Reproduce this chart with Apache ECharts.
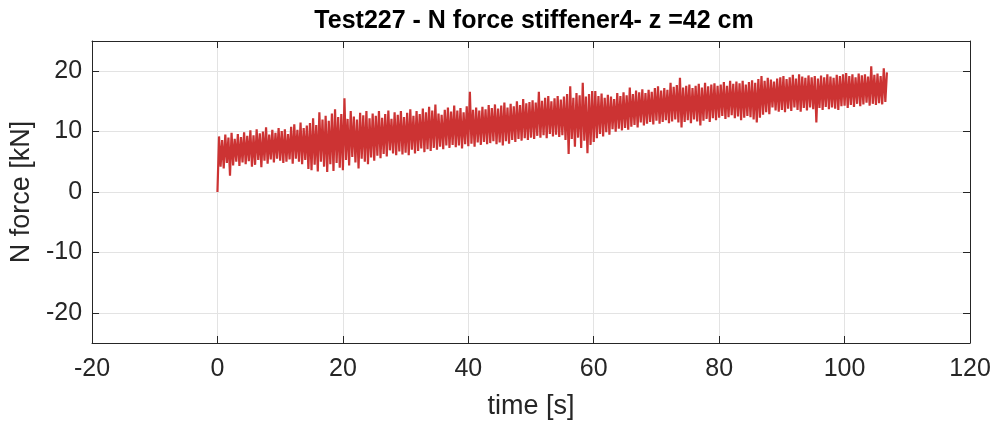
<!DOCTYPE html>
<html>
<head>
<meta charset="utf-8">
<script src="https://cdn.jsdelivr.net/npm/echarts@6/dist/echarts.min.js"></script>
<style>
  html, body { margin: 0; padding: 0; background: #fff; }
  #view1Data { width: 995px; height: 428px; }
</style>
</head>
<body>
<div id="view1Data"></div>
<script>
// sampling of the signal: one trough and one peak every half second
const sampleStep = 0.5
const yTicks = [-20, -10, 0, 10, 20]

// troughs (t = 0, 0.5, 1, ...)
const lows = [
  0, 4.2, 3.9, 4.8, 2.7, 4.4, 5.0, 4.3, 4.9, 4.6,
  5.1, 4.2, 4.5, 5.3, 4.1, 5.2, 4.7, 5.4, 4.9, 5.5,
  5.2, 4.8, 5.0, 5.4, 4.7, 5.5, 5.0, 4.6, 5.3, 3.8,
  3.6, 4.5, 3.4, 5.0, 4.2, 3.3, 4.6, 3.5, 4.8, 4.0,
  3.6, 5.3, 4.4, 5.8, 4.9, 3.9, 5.5, 5.0, 4.6, 5.7,
  5.2, 6.0, 5.6, 6.3, 5.9, 6.9, 6.4, 6.1, 6.7, 6.2,
  6.5, 6.1, 7.0, 6.4, 6.8, 7.2, 6.6, 7.1, 6.8, 7.3,
  7.0, 7.5, 7.1, 7.7, 7.3, 7.8, 7.4, 7.7, 7.2, 7.9,
  7.6, 8.0, 7.5, 8.2, 7.8, 8.3, 7.9, 8.1, 8.4, 7.9,
  8.2, 7.7, 8.4, 8.0, 8.6, 8.3, 8.8, 8.5, 8.9, 8.6,
  9.0, 8.8, 9.3, 9.0, 9.4, 8.9, 9.6, 9.2, 9.5, 9.1,
  9.4, 8.6, 6.3, 8.8, 7.5, 9.0, 7.3, 8.5, 6.4, 7.8,
  8.3, 8.9, 9.6, 9.2, 9.9, 9.5, 10.4, 10.0, 10.5, 10.2,
  10.6, 10.3, 10.8, 11.1, 10.7, 11.5, 11.0, 11.3, 11.6, 11.2,
  11.8, 11.3, 11.6, 11.9, 11.4, 11.7, 12.0, 11.5, 10.7, 11.6,
  11.9, 11.4, 12.0, 11.7, 11.0, 11.8, 12.1, 11.6, 12.2, 11.9,
  12.3, 12.6, 12.1, 12.4, 12.7, 12.2, 12.5, 11.9, 12.3, 12.6,
  12.4, 12.0, 11.5, 12.3, 12.8, 13.2, 12.9, 14.0, 13.5, 13.3,
  13.6, 13.2, 13.8, 13.4, 14.0, 13.6, 13.3, 13.9, 13.5, 14.0,
  13.7, 11.5, 13.9, 13.6, 14.1, 13.7, 14.0, 13.8, 13.6, 14.2,
  14.3, 13.9, 14.4, 14.1, 14.6, 14.2, 14.5, 14.8, 14.3, 14.6,
  14.4, 14.7, 14.5, 14.9
]

// peaks (t = 0.25, 0.75, 1.25, ...)
const highs = [
  9.2, 8.6, 9.5, 9.0, 9.8, 8.8, 9.6, 9.1, 9.9, 9.3,
  10.2, 9.4, 10.4, 9.7, 10.0, 10.7, 9.5, 10.3, 9.8, 10.6,
  10.1, 10.4, 9.6, 10.8, 11.2, 10.3, 11.5, 10.6, 11.0, 11.4,
  12.2, 11.1, 13.2, 12.0, 12.6, 11.8, 13.0, 13.7, 12.4, 12.9,
  15.5, 12.1, 13.4, 12.5, 12.0, 13.1, 12.7, 13.4, 12.2, 13.0,
  12.6, 13.4, 12.3, 12.9, 13.5, 12.1, 13.2, 12.8, 13.4, 12.4,
  13.1, 13.7, 12.6, 13.4, 12.9, 13.8, 13.2, 14.1, 13.5, 14.5,
  13.0, 12.8, 13.6, 14.0, 13.3, 14.3, 13.5, 13.9, 13.2, 14.2,
  16.6, 13.6, 14.0, 13.5, 14.1, 13.7, 14.4, 13.9, 14.5, 13.8,
  14.3, 14.8, 14.0, 14.6, 14.2, 15.0, 14.4, 15.4, 14.7, 14.9,
  15.2, 14.8, 16.6, 15.1, 15.6, 15.9, 15.0, 15.5, 15.9, 15.3,
  15.8, 16.2, 17.5, 15.6, 16.4, 16.0, 18.1, 15.8, 16.2, 16.7,
  16.7, 15.9, 16.3, 15.6, 16.1, 15.8, 15.4, 16.4, 15.9, 16.5,
  16.0, 17.3, 16.2, 16.8, 16.5, 17.0, 16.4, 16.9, 16.6, 17.2,
  17.5, 16.8, 17.2, 16.9, 18.1, 17.4, 17.7, 18.9, 17.3, 17.6,
  17.8, 17.2, 17.6, 17.9, 17.3, 18.1, 17.5, 17.8, 18.0, 17.6,
  17.8, 18.2, 17.6, 18.4, 17.9, 18.3, 18.0, 18.4, 17.8, 18.2,
  18.5, 18.1, 18.7, 19.2, 18.4, 18.9, 18.6, 18.3, 18.8, 19.0,
  19.2, 18.7, 19.0, 19.4, 18.8, 19.5, 19.1, 18.9, 19.3, 19.0,
  19.2, 18.8, 19.3, 19.0, 19.5, 19.1, 18.9, 19.4, 19.2, 19.5,
  19.7, 19.2, 19.5, 19.0, 19.6, 19.3, 19.5, 19.1, 20.8, 19.4,
  19.6, 19.2, 20.5, 19.8
]

let signal = []
lows.forEach((lo, i) => {
  signal.push([i * sampleStep, lo])
  signal.push([i * sampleStep + sampleStep / 2, highs[i]])
})

const axisColor = "#262626"
const font = "'Liberation Sans', Arial, sans-serif"

let myChart = echarts.init(document.getElementById("view1Data"))
myChart.setOption({
  animation: false,
  title: {
    text: "Test227 - N force stiffener4- z =42 cm",
    left: 529,
    top: 4,
    textAlign: "center",
    textStyle: { fontFamily: font, fontWeight: "bold", fontSize: 25, color: "#000" },
  },
  grid: { left: 92, right: 25, top: 41, bottom: 85, containLabel: false },
  xAxis: [
    {
      type: "value",
      min: -20,
      max: 120,
      interval: 20,
      name: "time [s]",
      nameLocation: "middle",
      nameGap: 50,
      nameTextStyle: { fontFamily: font, fontSize: 27, color: axisColor },
      axisLine: { show: true, onZero: false, lineStyle: { color: axisColor, width: 1 } },
      axisTick: { show: true, inside: true, length: 7, lineStyle: { color: axisColor } },
      axisLabel: { fontFamily: font, fontSize: 25, color: axisColor, margin: 14 },
      splitLine: { show: true, lineStyle: { color: "#e3e3e3", width: 1 } },
    },
    {
      type: "value",
      position: "top",
      min: -20,
      max: 120,
      interval: 20,
      axisLine: { show: true, onZero: false, lineStyle: { color: axisColor, width: 1 } },
      axisTick: { show: true, inside: true, length: 7, lineStyle: { color: axisColor } },
      axisLabel: { show: false },
      splitLine: { show: false },
    },
  ],
  yAxis: [
    {
      type: "value",
      min: -25,
      max: 25,
      name: "N force [kN]",
      nameLocation: "middle",
      nameGap: 57,
      nameTextStyle: { fontFamily: font, fontSize: 27, color: axisColor },
      axisLine: { show: true, onZero: false, lineStyle: { color: axisColor, width: 1 } },
      axisTick: { show: true, inside: true, length: 7, customValues: yTicks, lineStyle: { color: axisColor } },
      axisLabel: { fontFamily: font, fontSize: 25, color: axisColor, margin: 10, customValues: yTicks },
      splitLine: { show: true, lineStyle: { color: "#e3e3e3", width: 1 } },
    },
    {
      type: "value",
      position: "right",
      min: -25,
      max: 25,
      axisLine: { show: true, onZero: false, lineStyle: { color: axisColor, width: 1 } },
      axisTick: { show: true, inside: true, length: 7, customValues: yTicks, lineStyle: { color: axisColor } },
      axisLabel: { show: false },
      splitLine: { show: false },
    },
  ],
  series: [
    {
      type: "line",
      data: signal,
      showSymbol: false,
      sampling: null,
      lineStyle: { color: "#cc3333", width: 2.2 },
      itemStyle: { color: "#cc3333" },
    },
  ],
})

window.addEventListener("resize", () => {
  myChart.resize()
})
</script>
</body>
</html>
